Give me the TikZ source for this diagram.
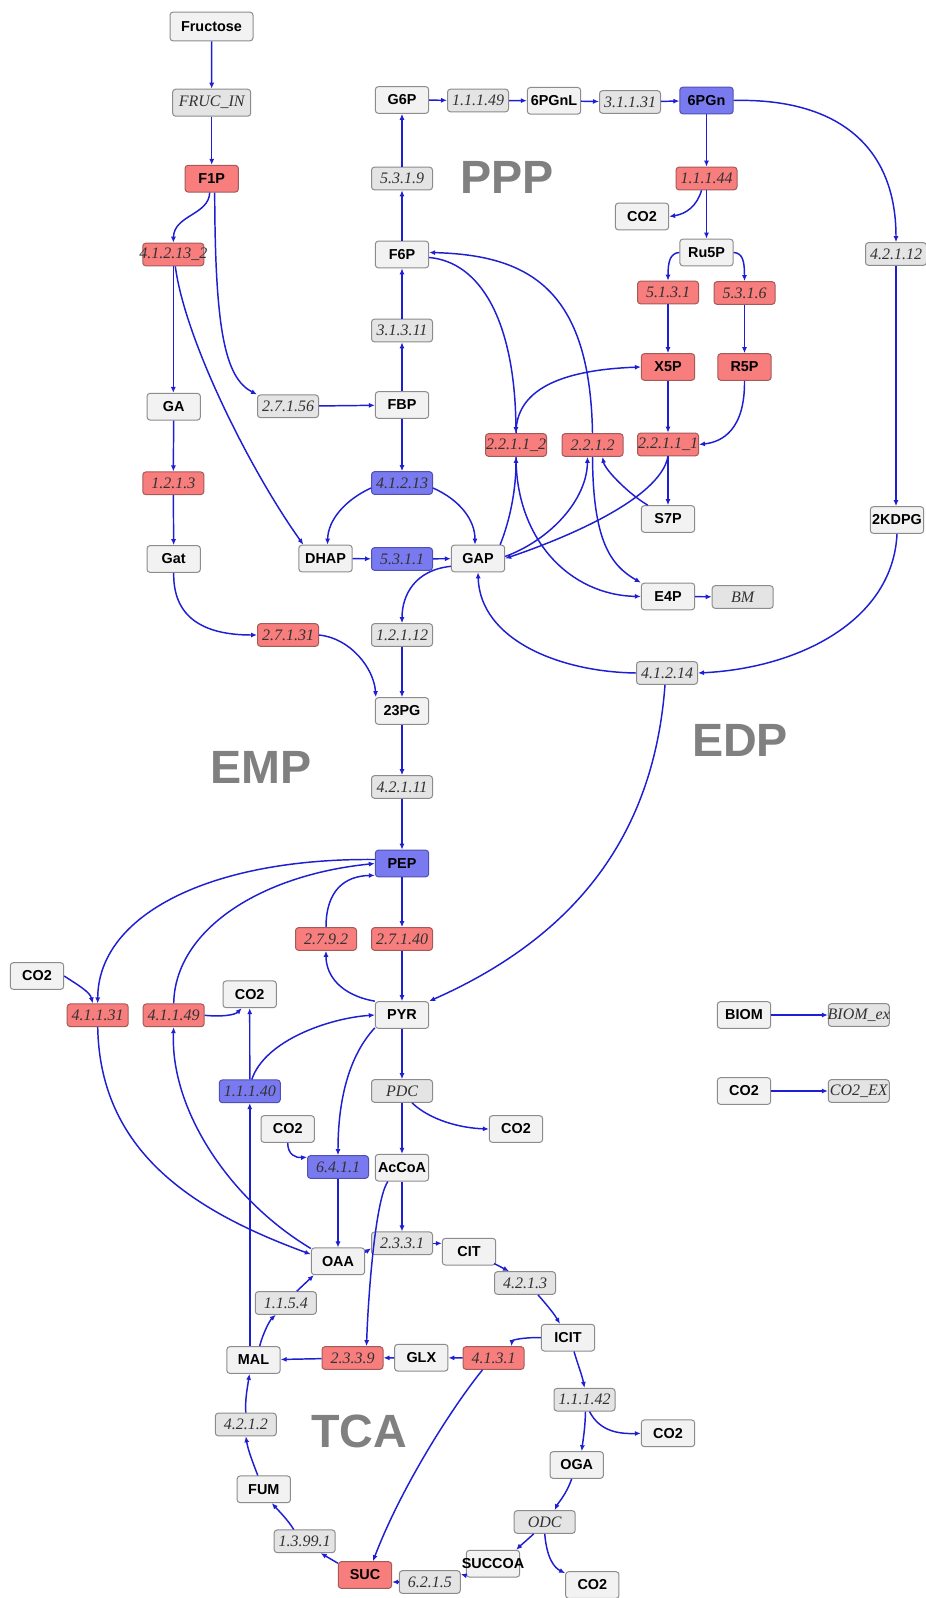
\documentclass[tikz,border=0pt]{standalone}
\usepackage{fontspec}
\usetikzlibrary{arrows.meta,calc}
\newfontfamily\sansb{Liberation Sans}
\newfontfamily\serifi{Liberation Serif}
\newcommand\metfont{\sansb\bfseries\fontsize{10.8pt}{12pt}\selectfont}
\newcommand\rxnfont{\serifi\itshape\fontsize{12pt}{14pt}\selectfont}
\newcommand\bigfont{\sansb\bfseries\fontsize{35pt}{40pt}\selectfont}
\newcommand\mkc[1]{\makebox[0pt][c]{#1}}
\definecolor{metf}{RGB}{242,242,242}
\definecolor{rxnf}{RGB}{228,228,228}
\definecolor{bordc}{RGB}{140,140,140}
\definecolor{hotf}{RGB}{248,125,125}
\definecolor{hotb}{RGB}{165,90,90}
\definecolor{bluf}{RGB}{122,122,240}
\definecolor{blub}{RGB}{80,80,180}
\definecolor{edgec}{RGB}{30,30,210}
\definecolor{labc}{RGB}{128,128,128}
\definecolor{rtext}{RGB}{50,50,50}
\tikzset{
  met/.style={draw=bordc, fill=metf, rounded corners=2.25pt, minimum width=40pt, minimum height=20pt, inner sep=0pt, font=\metfont, text=black, line width=0.75pt},
  rxn/.style={draw=bordc, fill=rxnf, rounded corners=2.25pt, minimum width=45.75pt, minimum height=17pt, inner sep=0pt, font=\rxnfont, text=rtext, line width=0.75pt},
  hot/.style={fill=hotf, draw=hotb},
  blu/.style={fill=bluf, draw=blub},
  arr/.style={draw=edgec, line width=1.1pt, -{Latex[length=4.5pt,width=3.8pt]}},
  plbl/.style={font=\bigfont, text=labc, inner sep=0pt}
}
\begin{document}
\begin{tikzpicture}[x=0.75pt,y=-0.75pt]
\fill[white] (0,0) rectangle (925,1598);
\useasboundingbox (0,0) rectangle (925,1598);
% metabolites
\node[met, minimum width=62.25pt, minimum height=21.5pt] (fru) at (211.5,26.5) {\mkc{Fructose}};
\node[met, hot] (f1p) at (211.7,178.7) {\mkc{F1P}};
\node[met] (g6p) at (402,100) {\mkc{G6P}};
\node[met] (pgnl) at (554,100.8) {\mkc{6PGnL}};
\node[met, blu] (pgn) at (706.5,100.5) {\mkc{6PGn}};
\node[met] (co2a) at (642,216.5) {\mkc{CO2}};
\node[met] (f6p) at (402,254.5) {\mkc{F6P}};
\node[met] (ru5p) at (706.5,252.5) {\mkc{Ru5P}};
\node[met, hot] (x5p) at (668,367) {\mkc{X5P}};
\node[met, hot] (r5p) at (744.5,367) {\mkc{R5P}};
\node[met] (ga) at (173.7,406.7) {\mkc{GA}};
\node[met] (fbp) at (402,405) {\mkc{FBP}};
\node[met] (s7p) at (668,519) {\mkc{S7P}};
\node[met] (kdpg) at (897,520) {\mkc{2KDPG}};
\node[met] (gat) at (173.7,559) {\mkc{Gat}};
\node[met] (dhap) at (325.5,558.5) {\mkc{DHAP}};
\node[met] (gap) at (478,558.5) {\mkc{GAP}};
\node[met] (e4p) at (668,596.5) {\mkc{E4P}};
\node[met] (pg23) at (402,711) {\mkc{23PG}};
\node[met, blu] (pep) at (402,863.5) {\mkc{PEP}};
\node[met] (co2b) at (37,976) {\mkc{CO2}};
\node[met] (co2c) at (249.7,994.3) {\mkc{CO2}};
\node[met] (pyr) at (402,1015) {\mkc{PYR}};
\node[met] (biom) at (744,1015) {\mkc{BIOM}};
\node[met] (co2d) at (744,1091) {\mkc{CO2}};
\node[met] (co2e) at (287.7,1129) {\mkc{CO2}};
\node[met] (co2f) at (516,1129) {\mkc{CO2}};
\node[met] (accoa) at (402,1167.7) {\mkc{AcCoA}};
\node[met] (cit) at (469,1251.7) {\mkc{CIT}};
\node[met] (oaa) at (338,1261.3) {\mkc{OAA}};
\node[met] (icit) at (568,1337.7) {\mkc{ICIT}};
\node[met] (mal) at (253.5,1360) {\mkc{MAL}};
\node[met] (glx) at (421.3,1357.7) {\mkc{GLX}};
\node[met] (co2g) at (668,1433.3) {\mkc{CO2}};
\node[met] (oga) at (576.7,1465) {\mkc{OGA}};
\node[met] (fum) at (263.8,1489.3) {\mkc{FUM}};
\node[met] (succoa) at (493,1563.7) {\mkc{SUCCOA}};
\node[met, hot] (suc) at (365,1575) {\mkc{SUC}};
\node[met] (co2h) at (592.3,1585) {\mkc{CO2}};
% reactions
\node[rxn, minimum width=58.5pt, minimum height=20.25pt] (frucin) at (211.7,102.7) {\mkc{FRUC\_IN}};
\node[rxn, hot] (r4121312) at (173.3,254.5) {\mkc{4.1.2.13\_2}};
\node[rxn] (r11149) at (478,100.5) {\mkc{1.1.1.49}};
\node[rxn] (r31131) at (630,102) {\mkc{3.1.1.31}};
\node[rxn] (r53119) at (402,178.5) {\mkc{5.3.1.9}};
\node[rxn, hot] (r11144) at (706.5,178.5) {\mkc{1.1.1.44}};
\node[rxn] (r4212) at (896,254) {\mkc{4.2.1.12}};
\node[rxn, hot] (r5131) at (668,292.5) {\mkc{5.1.3.1}};
\node[rxn, hot] (r5316) at (744.5,293) {\mkc{5.3.1.6}};
\node[rxn] (r31311) at (402,330.5) {\mkc{3.1.3.11}};
\node[rxn] (r27156) at (288,406.3) {\mkc{2.7.1.56}};
\node[rxn, hot] (r22112) at (516,445) {\mkc{2.2.1.1\_2}};
\node[rxn, hot] (r2212) at (592.5,445) {\mkc{2.2.1.2}};
\node[rxn, hot] (r22111) at (668,444.5) {\mkc{2.2.1.1\_1}};
\node[rxn, hot] (r1213) at (173.3,483.3) {\mkc{1.2.1.3}};
\node[rxn, blu] (r41213) at (402,483) {\mkc{4.1.2.13}};
\node[rxn, blu] (r5311) at (402,559) {\mkc{5.3.1.1}};
\node[rxn] (bm) at (742.7,597) {\mkc{BM}};
\node[rxn, hot] (r27131) at (288,635) {\mkc{2.7.1.31}};
\node[rxn] (r12112) at (402,635) {\mkc{1.2.1.12}};
\node[rxn] (r41214) at (667,673) {\mkc{4.1.2.14}};
\node[rxn] (r42111) at (402,787) {\mkc{4.2.1.11}};
\node[rxn, hot] (r2792) at (326,939) {\mkc{2.7.9.2}};
\node[rxn, hot] (r27140) at (402,939) {\mkc{2.7.1.40}};
\node[rxn, hot] (r41131) at (97.7,1015.3) {\mkc{4.1.1.31}};
\node[rxn, hot] (r41149) at (173.7,1015.3) {\mkc{4.1.1.49}};
\node[rxn] (biomex) at (858.8,1015) {\mkc{BIOM\_ex}};
\node[rxn, blu] (r11140) at (249.8,1091.3) {\mkc{1.1.1.40}};
\node[rxn] (pdc) at (402,1091) {\mkc{PDC}};
\node[rxn] (co2ex) at (858.8,1091) {\mkc{CO2\_EX}};
\node[rxn, blu] (r6411) at (338,1167) {\mkc{6.4.1.1}};
\node[rxn] (r2331) at (402,1243.3) {\mkc{2.3.3.1}};
\node[rxn] (r4213) at (525,1283) {\mkc{4.2.1.3}};
\node[rxn] (r1154) at (285.8,1303) {\mkc{1.1.5.4}};
\node[rxn, hot] (r2339) at (352.5,1358) {\mkc{2.3.3.9}};
\node[rxn, hot] (r4131) at (493.5,1358) {\mkc{4.1.3.1}};
\node[rxn] (r11142) at (584.5,1399.7) {\mkc{1.1.1.42}};
\node[rxn] (r4212b) at (245.8,1424.5) {\mkc{4.2.1.2}};
\node[rxn] (odc) at (544.7,1522) {\mkc{ODC}};
\node[rxn] (r13991) at (304.7,1541.3) {\mkc{1.3.99.1}};
\node[rxn] (r6215) at (429.8,1582) {\mkc{6.2.1.5}};
% pathway labels
\node[plbl] (tppp) at (507,177) {PPP};
\node[plbl] (temp) at (261,767.5) {EMP};
\node[plbl] (tedp) at (740,740.5) {EDP};
\node[plbl] (ttca) at (359,1431) {TCA};
% edges: upper glycolysis / fructose
\draw[arr] (fru) -- (frucin);
\draw[arr] (frucin) -- (f1p);
\draw[arr] ($(f1p.south)+(-2,0)$) .. controls (209,215) and (174,215) .. (r4121312.north);
\draw[arr] ($(f1p.south)+(3,0)$) .. controls (215,330) and (225,378) .. (r27156.north west);
\draw[arr] (r4121312.south) -- (ga.north -| r4121312.south);
\draw[arr] ($(r4121312.south)+(2,0)$) .. controls (185,340) and (250,470) .. ($(dhap.north west)+(5,0)$);
\draw[arr] (ga) -- (r1213);
\draw[arr] (r1213) -- (gat);
\draw[arr] (gat.south) .. controls (173,615) and (200,635) .. (r27131.west);
\draw[arr] (r27131.east) .. controls (350,638) and (374,668) .. ($(pg23.north west)+(1,0)$);
\draw[arr] (r27156) -- (fbp);
\draw[arr] (fbp) -- (r31311);
\draw[arr] (r31311) -- (f6p);
\draw[arr] (f6p) -- (r53119);
\draw[arr] (r53119) -- (g6p);
% PPP
\draw[arr] (g6p) -- (r11149);
\draw[arr] (r11149) -- (pgnl);
\draw[arr] (pgnl) -- (r31131);
\draw[arr] (r31131) -- (pgn);
\draw[arr] (pgn) -- (r11144);
\draw[arr] (r11144) -- (ru5p);
\draw[arr] ($(r11144.south)+(-5,0)$) .. controls (697,206) and (686,214) .. (co2a.east);
\draw[arr] (ru5p.west) .. controls (670,253) and (668,262) .. (r5131.north);
\draw[arr] (ru5p.east) .. controls (743,253) and (744.5,262) .. (r5316.north);
\draw[arr] (r5131) -- (x5p);
\draw[arr] (r5316) -- (r5p);
\draw[arr] (x5p) -- (r22111);
\draw[arr] (r22111) -- (s7p);
\draw[arr] (r5p.south) .. controls (745,430) and (722,442) .. (r22111.east);
\draw[arr] (r22111.south) .. controls (660,500) and (560,540) .. (gap.east);
\draw[arr] ($(f6p.east)+(0,3)$) .. controls (480,262) and (515,320) .. (r22112.north);
\draw[arr] (r2212.north) .. controls (590,290) and (530,255) .. ($(f6p.east)+(0,-2)$);
\draw[arr] (r22112.north) .. controls (516,390) and (560,370) .. (x5p.west);
\draw[arr] ($(gap.north east)+(-5,0)$) .. controls (510,520) and (516,490) .. (r22112.south);
\draw[arr] (r22112.south) .. controls (516,540) and (570,595) .. (e4p.west);
\draw[arr] ($(gap.east)+(0,-2)$) .. controls (550,540) and (587,500) .. ($(r2212.south)+(-5,0)$);
\draw[arr] (r2212.south) .. controls (593,540) and (610,565) .. (e4p.north west);
\draw[arr] ($(s7p.north west)+(7,0)$) .. controls (630,495) and (605,470) .. ($(r2212.south east)+(-21,0)$);
\draw[arr] (e4p) -- (bm);
% EDP
\draw[arr] (pgn.east) .. controls (830,98) and (896,140) .. (r4212.north);
\draw[arr] (r4212.south) -- (r4212.south |- kdpg.north);
\draw[arr] (kdpg.south) .. controls (893,620) and (800,668) .. (r41214.east);
\draw[arr] (r41214.west) .. controls (560,672) and (480,640) .. (gap.south);
\draw[arr] ($(r41214.south)+(-2,0)$) .. controls (655,820) and (590,930) .. (pyr.north east);
% lower glycolysis
\draw[arr] (fbp) -- (r41213);
\draw[arr] ($(r41213.west)+(0,5)$) .. controls (345,500) and (328,520) .. ($(dhap.north)+(2,0)$);
\draw[arr] ($(r41213.east)+(0,5)$) .. controls (460,500) and (475,520) .. ($(gap.north)+(-3,0)$);
\draw[arr] (dhap) -- (r5311);
\draw[arr] (r5311) -- (gap);
\draw[arr] ($(gap.south west)+(0,-6)$) .. controls (415,570) and (402,595) .. (r12112.north);
\draw[arr] (r12112) -- (pg23);
\draw[arr] (pg23) -- (r42111);
\draw[arr] (r42111) -- (pep);
\draw[arr] (pep) -- (r27140);
\draw[arr] (r27140) -- (pyr);
\draw[arr] (pyr.north west) .. controls (340,995) and (326,975) .. (r2792.south);
\draw[arr] (r2792.north) .. controls (326,890) and (345,876) .. ($(pep.south west)+(0,-2)$);
% anaplerotic
\draw[arr] ($(pep.west)+(0,-4)$) .. controls (210,858) and (98,915) .. (r41131.north);
\draw[arr] (r41149.north) .. controls (175,930) and (260,875) .. (pep.west);
\draw[arr] (co2b.east) .. controls (78,985) and (90,992) .. ($(r41131.north)+(-5,0)$);
\draw[arr] (r41149.east) .. controls (222,1017) and (235,1015) .. ($(co2c.south)+(-8,0)$);
\draw[arr] (r41131.south) .. controls (100,1150) and (190,1210) .. ($(oaa.west)+(0,-7)$);
\draw[arr] ($(oaa.north west)+(0,1)$) .. controls (230,1200) and (170,1110) .. (r41149.south);
\draw[arr] (mal.north -| r11140) -- (r11140.south);
\draw[arr] (r11140) -- (co2c);
\draw[arr] ($(r11140.north)+(2,0)$) .. controls (265,1040) and (330,1018) .. (pyr.west);
\draw[arr] ($(pyr.south west)+(0,-1)$) .. controls (345,1060) and (338,1110) .. (r6411.north);
\draw[arr] (co2e.south) .. controls (287.7,1155) and (296,1158) .. ($(r6411.north west)+(0,2)$);
\draw[arr] (r6411) -- (oaa);
\draw[arr] (pyr) -- (pdc);
\draw[arr] (pdc) -- (accoa);
\draw[arr] (accoa) -- (r2331);
\draw[arr] ($(pdc.south)+(10,0)$) .. controls (430,1120) and (460,1128) .. (co2f.west);
% TCA
\draw[arr] ($(accoa.south west)+(13,0)$) .. controls (375,1200) and (368,1300) .. ($(r2339.north)+(14,0)$);
\draw[arr] ($(oaa.east)+(0,-9)$) -- ($(r2331.west)+(0,5)$);
\draw[arr] (r2331.east) -- (r2331.east -| cit.west);
\draw[arr] ($(cit.south east)+(-2,-2)$) -- ($(r4213.north)+(-16,0)$);
\draw[arr] ($(r4213.south)+(13,0)$) .. controls (545,1303) and (553,1312) .. ($(icit.north)+(-8,0)$);
\draw[arr] (icit.west) .. controls (525,1337) and (512,1340) .. ($(r4131.north east)+(-13,0)$);
\draw[arr] ($(icit.south)+(6,0)$) .. controls (578,1365) and (582,1375) .. (r11142.north);
\draw[arr] ($(r11142.south)+(5,0)$) .. controls (600,1432) and (620,1434) .. (co2g.west);
\draw[arr] ($(r11142.south)+(1,0)$) .. controls (585,1430) and (583,1440) .. ($(oga.north)+(5,0)$);
\draw[arr] ($(oga.south)+(-5,0)$) .. controls (566,1495) and (558,1503) .. ($(odc.north)+(10,0)$);
\draw[arr] ($(odc.south)+(-11,0)$) .. controls (527,1540) and (520,1546) .. ($(succoa.north east)+(-4,0)$);
\draw[arr] (odc.south) .. controls (547,1560) and (555,1568) .. ($(co2h.north west)+(0,2)$);
\draw[arr] ($(succoa.south west)+(0,-2)$) -- ($(r6215.north east)+(0,4)$);
\draw[arr] (r6215.west) -- (r6215.west -| suc.east);
\draw[arr] ($(r4131.south)+(-11,0)$) .. controls (450,1410) and (400,1490) .. ($(suc.north)+(8,0)$);
\draw[arr] (r4131) -- (glx);
\draw[arr] (glx) -- (r2339);
\draw[arr] (r2339) -- (mal);
\draw[arr] ($(mal.north east)+(-21,0)$) .. controls (263,1333) and (270,1320) .. ($(r1154.south)+(-10,0)$);
\draw[arr] ($(r1154.north)+(11,0)$) -- ($(oaa.south west)+(3,0)$);
\draw[arr] ($(suc.north west)+(0,2)$) -- ($(r13991.south east)+(-15,0)$);
\draw[arr] ($(r13991.north)+(-11,0)$) .. controls (288,1520) and (278,1510) .. ($(fum.south)+(8,0)$);
\draw[arr] ($(fum.north)+(-6,0)$) .. controls (253,1463) and (248,1450) .. (r4212b.south);
\draw[arr] (r4212b.north) .. controls (245,1400) and (247,1390) .. ($(mal.south)+(-4,0)$);
% exchange
\draw[arr] (biom) -- (biomex);
\draw[arr] (co2d) -- (co2ex);
\end{tikzpicture}
\end{document}
